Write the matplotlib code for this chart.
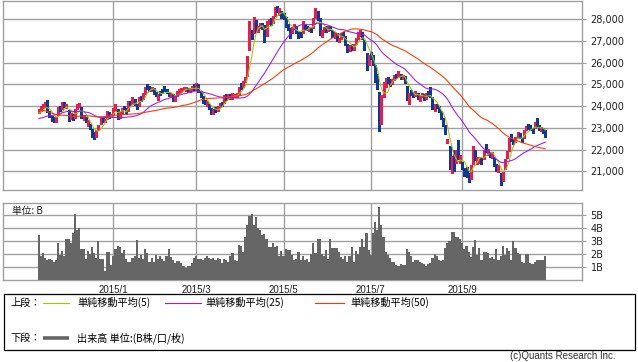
import numpy as np
import pandas as pd
import matplotlib
matplotlib.use("Agg")
import matplotlib.pyplot as plt
from matplotlib.lines import Line2D
from matplotlib.patches import Rectangle
from matplotlib.ticker import FuncFormatter

# ---------------- data ----------------
start_date = "2014-11-11"
end_date = "2015-10-30"
holidays = ["2014-12-25", "2014-12-26", "2015-01-01", "2015-02-19", "2015-02-20",
            "2015-04-03", "2015-04-06", "2015-04-07", "2015-05-01", "2015-05-25",
            "2015-07-01", "2015-09-03", "2015-09-28", "2015-10-01", "2015-10-21"]

# closes before the visible window (used only for the moving averages)
pre_close = [24742, 24752, 24749, 25318, 25297, 25240, 25190, 24705, 24663, 24595,
             24356, 24136, 24376, 24168, 24306, 23955, 23837, 23921, 23768, 23678,
             23229, 22932, 23064, 23316, 23422, 23263, 23534, 23088, 23143, 23047,
             23140, 22900, 23023, 23070, 23088, 23403, 23333, 23302, 23143, 23520,
             23820, 23702, 23998, 23915, 23846, 23695, 23649, 23550, 23744]

close = [23808, 23938, 24019, 24087, 23797, 23529, 23373, 23349, 23437, 23893,
         23843, 24112, 24004, 23987, 23367, 23654, 23428, 23832, 24002, 24047,
         23485, 23524, 23312, 23249, 23027, 22670, 22586, 22832, 23116, 23408,
         23333, 23349, 23773, 23501, 23605, 23857, 24053, 23485, 23681, 23835,
         23919, 23738, 24216, 24112, 24350, 24103, 23951, 24352, 24352, 24522,
         24850, 24909, 24807, 24861, 24596, 24507, 24484, 24555, 24679, 24766,
         24679, 24521, 24529, 24315, 24422, 24682, 24726, 24784, 24832, 24836,
         24750, 24778, 24902, 24823, 24887, 24702, 24465, 24193, 24164, 24123,
         23896, 23718, 23797, 23823, 23949, 24082, 24120, 24469, 24375, 24494,
         24399, 24528, 24497, 24486, 24855, 24901, 25082, 25275, 26236, 27400,
         27272, 28016, 27561, 27618, 27740, 27653, 27094, 27850, 27933, 27827,
         28061, 28433, 28442, 28400, 28133, 28123, 27755, 27641, 27289, 27577,
         27719, 27407, 27249, 27286, 27822, 27591, 27594, 27585, 27523, 27993,
         28249, 28081, 27455, 27424, 27597, 27466, 27657, 27551, 27260, 27316,
         27068, 27080, 27280, 27281, 26862, 26566, 26753, 26695, 26760, 27080,
         27333, 27404, 27145, 26663, 25966, 26250, 26282, 26064, 25236, 24976,
         23517, 24393, 24901, 25224, 25121, 25056, 25163, 25415, 25404, 25536,
         25282, 25398, 25128, 24351, 24503, 24619, 24497, 24636, 24411, 24406,
         24514, 24375, 24553, 24522, 24498, 23916, 24016, 23991, 23814, 23475,
         23165, 22757, 22410, 21251, 21404, 21080, 21838, 21612, 21670, 21185,
         20934, 20840, 20584, 21259, 22131, 21562, 21504, 21561, 21455, 21967,
         22000, 21920, 21757, 21797, 21302, 21095, 21186, 20556, 20846, 21506,
         21854, 22515, 22516, 22354, 22459, 22730, 22600, 22439, 22888, 23067,
         23076, 22990, 22846, 23151, 23116, 22957, 22956, 22820, 22640]

open_ = [23760, 23850, 23980, 24050, 24250, 23750, 23500, 23420, 23330, 23600,
         23950, 23900, 24120, 23950, 23800, 23450, 23600, 23500, 23900, 24000,
         23900, 23400, 23450, 23200, 23150, 22900, 22700, 22650, 22950, 23250,
         23400, 23300, 23450, 23700, 23550, 23650, 23850, 23800, 23550, 23750,
         23950, 23850, 23850, 24200, 24150, 24300, 24000, 24050, 24400, 24400,
         24600, 24950, 24850, 24750, 24800, 24550, 24400, 24600, 24750, 24850,
         24700, 24600, 24450, 24500, 24300, 24500, 24650, 24700, 24800, 24750,
         24800, 24700, 24800, 24950, 24800, 24950, 24650, 24400, 24250, 24100,
         24050, 23850, 23700, 23900, 23850, 24000, 24150, 24200, 24500, 24450,
         24500, 24400, 24450, 24450, 24550, 24950, 24950, 25150, 25400, 26650,
         27350, 27400, 27900, 27500, 27700, 27800, 27700, 27300, 27900, 27950,
         27900, 28200, 28450, 28350, 28350, 28200, 28050, 27700, 27550, 27400,
         27650, 27650, 27400, 27300, 27400, 27750, 27650, 27550, 27550, 27650,
         28100, 28300, 28000, 27300, 27500, 27650, 27500, 27650, 27450, 27250,
         27300, 27050, 27150, 27350, 27200, 26800, 26650, 26800, 26650, 26900,
         27150, 27300, 27350, 27000, 26400, 26000, 26400, 26300, 25700, 25300,
         24600, 23450, 24500, 25000, 25250, 25150, 25050, 25250, 25450, 25400,
         25450, 25300, 25350, 24900, 24200, 24650, 24600, 24500, 24550, 24400,
         24450, 24500, 24400, 24600, 24650, 24350, 23850, 24050, 23950, 23750,
         23400, 23100, 22330, 22100, 21100, 21900, 21500, 22300, 21500, 21400,
         21000, 21100, 20800, 20700, 21400, 21900, 21500, 21450, 21500, 21600,
         22100, 21800, 21850, 21700, 21600, 21300, 21150, 20800, 20650, 21150,
         21700, 22000, 22600, 22450, 22400, 22650, 22700, 22500, 22600, 22950,
         23100, 23050, 22900, 23050, 23250, 23100, 22900, 22950, 22850]

high = [23880, 24000, 24100, 24200, 24300, 23800, 23560, 23480, 23500, 23950,
        24000, 24180, 24200, 24080, 23820, 23700, 23650, 23880, 24100, 24150,
        23950, 23600, 23500, 23350, 23200, 22950, 22800, 22900, 23150, 23450,
        23450, 23400, 23800, 23720, 23650, 23900, 24100, 23850, 23750, 23900,
        24000, 23900, 24250, 24250, 24400, 24350, 24100, 24400, 24450, 24600,
        24900, 25000, 24950, 24900, 24850, 24650, 24550, 24700, 24800, 24950,
        24800, 24650, 24600, 24550, 24450, 24700, 24800, 24850, 24900, 24900,
        24850, 24850, 24950, 25000, 25050, 25000, 24700, 24450, 24300, 24250,
        24100, 23900, 23850, 23950, 24000, 24150, 24200, 24500, 24550, 24550,
        24550, 24600, 24550, 24600, 24900, 25050, 25150, 25350, 26300, 27900,
        27500, 28100, 27950, 27700, 27850, 27850, 27750, 27900, 28000, 28050,
        28150, 28550, 28590, 28500, 28400, 28300, 28100, 27800, 27600, 27650,
        27800, 27700, 27450, 27400, 27900, 27800, 27700, 27650, 27600, 28050,
        28500, 28400, 28050, 27500, 27650, 27700, 27700, 27700, 27500, 27400,
        27350, 27150, 27350, 27400, 27250, 26850, 26800, 26850, 26850, 27150,
        27400, 27500, 27400, 27050, 26450, 26350, 26500, 26350, 25900, 25500,
        24650, 24500, 25100, 25300, 25350, 25250, 25250, 25450, 25500, 25600,
        25500, 25450, 25400, 24950, 24600, 24750, 24650, 24700, 24600, 24500,
        24600, 24550, 24600, 24700, 24900, 24400, 24100, 24100, 24000, 23800,
        23450, 23150, 22500, 22150, 21700, 22000, 22000, 22450, 21750, 21450,
        21150, 21200, 20900, 21300, 22150, 22000, 21650, 21650, 21600, 22000,
        22250, 22050, 21900, 21900, 21650, 21350, 21300, 20900, 20950, 21550,
        21950, 22550, 22700, 22500, 22600, 22800, 22750, 22550, 22900, 23100,
        23200, 23150, 23000, 23250, 23450, 23150, 23050, 23000, 22900]

low = [23700, 23800, 23900, 23980, 23750, 23480, 23300, 23280, 23280, 23580,
       23780, 23860, 23950, 23900, 23300, 23400, 23380, 23450, 23850, 23950,
       23450, 23350, 23250, 23100, 22950, 22600, 22500, 22600, 22900, 23200,
       23280, 23280, 23420, 23450, 23500, 23600, 23800, 23400, 23450, 23700,
       23850, 23650, 23800, 24050, 24100, 24050, 23850, 24000, 24250, 24350,
       24550, 24800, 24700, 24700, 24550, 24450, 24300, 24500, 24600, 24700,
       24600, 24450, 24400, 24250, 24250, 24450, 24600, 24650, 24750, 24700,
       24650, 24650, 24750, 24750, 24750, 24650, 24400, 24150, 24100, 24000,
       23850, 23650, 23650, 23750, 23800, 23950, 24000, 24150, 24300, 24350,
       24350, 24350, 24400, 24400, 24500, 24800, 24900, 25100, 25380, 26600,
       27100, 27350, 27400, 27400, 27600, 27550, 26950, 27250, 27800, 27750,
       27850, 28150, 28350, 28200, 28050, 28000, 27650, 27500, 27150, 27350,
       27550, 27350, 27150, 27200, 27350, 27500, 27500, 27450, 27400, 27600,
       28050, 27950, 27300, 27200, 27400, 27400, 27450, 27500, 27200, 27150,
       27000, 26950, 27100, 27200, 26800, 26500, 26550, 26600, 26600, 26850,
       27100, 27250, 27100, 26600, 25650, 25900, 26150, 25900, 25100, 24800,
       22836, 23200, 24400, 24900, 25050, 24950, 25000, 25200, 25300, 25350,
       25250, 25250, 25050, 24300, 24100, 24500, 24400, 24450, 24350, 24250,
       24400, 24300, 24350, 24450, 24400, 23850, 23800, 23900, 23750, 23400,
       23100, 22700, 22300, 21100, 20900, 21000, 21400, 21550, 21400, 21100,
       20800, 20750, 20500, 20650, 21350, 21500, 21350, 21400, 21350, 21550,
       21900, 21750, 21650, 21600, 21250, 21000, 20950, 20350, 20550, 21100,
       21600, 21950, 22400, 22250, 22350, 22550, 22550, 22350, 22550, 22900,
       22950, 22900, 22750, 23000, 23050, 22900, 22850, 22750, 22600]

volume_b = [3.45, 1.79, 2.09, 1.66, 1.48, 1.58, 1.48, 1.35, 1.53, 2.86,
            1.92, 2.25, 1.79, 3.12, 3.12, 2.81, 3.58, 5.06, 3.88, 3.96,
            2.35, 2.35, 1.58, 2.25, 2.00, 2.55, 2.04, 1.66, 3.01, 1.58,
            1.58, 0.69, 2.12, 2.12, 1.10, 1.79, 2.35, 2.61, 2.55, 2.04,
            2.30, 1.63, 1.38, 1.38, 1.66, 1.79, 3.07, 1.66, 1.92, 1.63,
            2.40, 2.04, 1.33, 1.66, 1.38, 1.92, 1.58, 1.79, 1.63, 1.46,
            1.84, 2.40, 1.74, 1.51, 1.28, 1.43, 1.46, 1.28, 1.07, 0.89,
            1.07, 1.02, 1.28, 1.66, 1.84, 1.58, 1.58, 1.53, 1.66, 1.79,
            1.66, 1.58, 1.66, 1.48, 1.66, 1.58, 1.28, 1.63, 1.53, 1.38,
            1.79, 2.04, 1.53, 1.46, 2.68, 2.63, 2.17, 3.32, 4.21, 4.90,
            5.11, 4.21, 4.85, 3.96, 3.88, 3.45, 3.50, 3.12, 2.55, 2.50,
            2.81, 2.50, 2.61, 1.79, 2.25, 1.79, 2.35, 2.30, 2.30, 1.92,
            1.53, 1.58, 2.17, 1.53, 1.79, 1.48, 1.58, 1.40, 1.99, 2.81,
            2.04, 3.12, 3.12, 1.99, 1.84, 2.30, 1.58, 3.12, 2.43, 2.43,
            2.43, 2.17, 1.74, 1.58, 1.79, 1.40, 1.79, 2.50, 1.40, 2.25,
            1.99, 2.55, 3.12, 2.50, 3.58, 2.30, 1.92, 3.58, 4.47, 3.83,
            5.62, 4.21, 3.32, 2.17, 1.92, 1.66, 1.40, 1.33, 1.12, 1.07,
            1.23, 1.12, 1.12, 2.35, 2.17, 1.79, 1.40, 1.53, 1.48, 1.40,
            1.28, 1.20, 1.02, 1.17, 1.28, 1.66, 1.99, 1.84, 1.48, 1.46,
            1.48, 2.43, 2.81, 3.01, 3.68, 3.68, 3.32, 3.27, 3.12, 2.81,
            2.35, 2.61, 2.17, 1.74, 2.55, 3.07, 1.92, 2.43, 1.48, 2.17,
            2.17, 2.04, 1.66, 1.74, 1.58, 2.35, 1.53, 1.79, 2.61, 1.92,
            2.43, 2.25, 1.48, 3.01, 2.43, 2.04, 1.99, 1.40, 1.28, 1.99,
            1.99, 1.28, 1.23, 1.40, 1.53, 1.48, 1.53, 1.53, 1.79]

ma_windows = [5, 25, 50]
ma_labels = ["単純移動平均(5)", "単純移動平均(25)", "単純移動平均(50)"]
price_ticks = [21000, 22000, 23000, 24000, 25000, 26000, 27000, 28000]
volume_ticks = [1, 2, 3, 4, 5]
tick_months = ["2015-01", "2015-03", "2015-05", "2015-07", "2015-09"]
tick_labels = ["2015/1", "2015/3", "2015/5", "2015/7", "2015/9"]

# ---------------- derived ----------------
dates = pd.bdate_range(start_date, end_date).drop(pd.to_datetime(holidays))
n = len(close)
assert len(dates) == n == len(open_) == len(high) == len(low) == len(volume_b), (len(dates), n)
idx = np.arange(n)
o = np.array(open_, float); c = np.array(close, float)
h = np.array(high, float); l = np.array(low, float)
all_close = pd.Series(pre_close + close, dtype=float)
mas = [all_close.rolling(w).mean().to_numpy()[len(pre_close):] for w in ma_windows]
tick_pos = [int(np.argmax(dates.strftime("%Y-%m") == m)) for m in tick_months]

# ---------------- style ----------------
W, H = 638, 362
RED = "#f2184c"
BLUE = "#0c3a9c"
MA_COLORS = ["#99cc00", "#9b19f5", "#ff3300"]
GRID = "#a0a0a0"
VOLC = "#666666"
CJK = ["Noto Sans CJK JP", "DejaVu Sans"]

fig = plt.figure(figsize=(W / 100, H / 100), dpi=100)
fig.patch.set_facecolor("white")


def rect(x0, y0, x1, y1):
    return [x0 / W, 1 - y1 / H, (x1 - x0) / W, (y1 - y0) / H]


xlim = (-16.7, 255.4)

ax = fig.add_axes(rect(3.3, 0.5, 582.3, 190.3))
axv = fig.add_axes(rect(3.3, 203.3, 582.3, 279.6))

for a in (ax, axv):
    a.set_xlim(*xlim)
    for s in a.spines.values():
        s.set_color(GRID)
        s.set_linewidth(1.0)
    a.set_xticks(tick_pos)
    a.grid(True, color=GRID, linewidth=1.0)
    a.set_axisbelow(True)
    a.yaxis.tick_right()
    a.tick_params(axis="y", direction="out", length=3, width=0.8, color=GRID,
                  pad=3, labelsize=7, labelcolor="#222222")
    a.tick_params(axis="x", length=0)

# candles
up = c >= o
colors = np.where(up, RED, BLUE)
ax.vlines(idx, l, h, colors=colors, linewidth=0.75, antialiased=False, zorder=2)
ax.bar(idx, np.maximum(np.abs(c - o), 25), bottom=np.minimum(o, c), width=0.95,
       color=colors, linewidth=0, antialiased=False, zorder=3)
for m, col in zip(mas, MA_COLORS):
    ax.plot(idx, m, color=col, linewidth=0.75, zorder=4)

ax.set_ylim(20125, 28866)
ax.set_yticks(price_ticks)
ax.yaxis.set_major_formatter(FuncFormatter(lambda v, p: f"{int(v):,}"))
ax.set_xticklabels([])

# volume
axv.bar(idx, volume_b, width=1.0, color=VOLC, linewidth=0, antialiased=False, zorder=3)
axv.set_ylim(0, 5.91)
axv.set_yticks(volume_ticks)
axv.set_yticklabels([f"{v}B" for v in volume_ticks], fontsize=7, family="DejaVu Sans")
axv.set_xticklabels(tick_labels, fontsize=7, family="Liberation Sans")
axv.tick_params(axis="x", pad=4, labelcolor="#222222")
fig.text(12 / W, 1 - 210.5 / H, "単位: B", fontsize=7, family=CJK, va="center",
         ha="left", color="#222222")

# legend box
fig.patches.append(Rectangle((3.5 / W, 1 - 350 / H), (635 - 3.5) / W, (350 - 294) / H,
                             transform=fig.transFigure, fill=False,
                             edgecolor="black", linewidth=0.9))
y1 = 1 - 302.5 / H
y2 = 1 - 338 / H
fs = 7.3
fig.text(10 / W, y1, "上段：", fontsize=fs, family=CJK, va="center")
seg = [(43, 69, 77), (165, 201, 205), (315, 344, 350)]
for (xa, xb, xt), col, lab in zip(seg, MA_COLORS, ma_labels):
    fig.add_artist(Line2D([xa / W, xb / W], [y1, y1], transform=fig.transFigure,
                          color=col, linewidth=0.8))
    fig.text(xt / W, y1, lab, fontsize=fs, family=CJK, va="center")
fig.text(10 / W, y2, "下段：", fontsize=fs, family=CJK, va="center")
fig.add_artist(Line2D([43 / W, 69 / W], [y2, y2], transform=fig.transFigure,
                      color=VOLC, linewidth=2.6, solid_capstyle="butt"))
fig.text(77 / W, y2, "出来高 単位:(B株/口/枚)", fontsize=fs, family=CJK, va="center")

fig.text(616 / W, 1 - 356 / H, "(c)Quants Research Inc.", fontsize=7,
         family="Liberation Sans", ha="right", va="center", color="#333333")

fig.savefig("out.png", dpi=100, facecolor="white")
